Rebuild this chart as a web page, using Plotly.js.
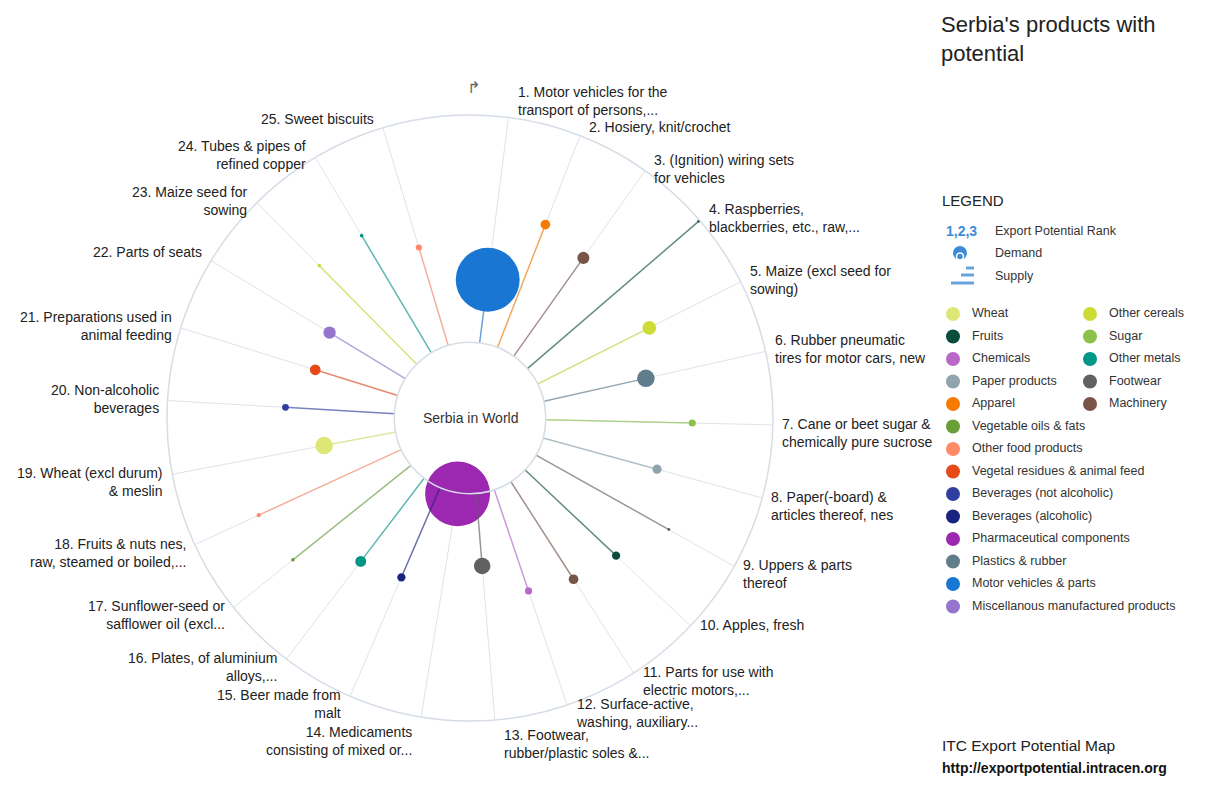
<!DOCTYPE html>
<html><head><meta charset="utf-8">
<script src="https://cdn.plot.ly/plotly-3.0.1.min.js"></script>
<style>html,body{margin:0;padding:0;background:#fff}#chart{width:1220px;height:798px}</style>
</head><body><div id="chart"></div>
<script>
// ---------- DATA ----------
const ranks = [1,2,3,4,5,6,7,8,9,10,11,12,13,14,15,16,17,18,19,20,21,22,23,24,25];
const products = [
  "1. Motor vehicles for the<br>transport of persons,...",
  "2. Hosiery, knit/crochet",
  "3. (Ignition) wiring sets<br>for vehicles",
  "4. Raspberries,<br>blackberries, etc., raw,...",
  "5. Maize (excl seed for<br>sowing)",
  "6. Rubber pneumatic<br>tires for motor cars, new",
  "7. Cane or beet sugar &<br>chemically pure sucrose",
  "8. Paper(-board) &<br>articles thereof, nes",
  "9. Uppers & parts<br>thereof",
  "10. Apples, fresh",
  "11. Parts for use with<br>electric motors,...",
  "12. Surface-active,<br>washing, auxiliary...",
  "13. Footwear,<br>rubber/plastic soles &...",
  "14. Medicaments<br>consisting of mixed or...",
  "15. Beer made from<br>malt",
  "16. Plates, of aluminium<br>alloys,...",
  "17. Sunflower-seed or<br>safflower oil (excl...",
  "18. Fruits & nuts nes,<br>raw, steamed or boiled,...",
  "19. Wheat (excl durum)<br>& meslin",
  "20. Non-alcoholic<br>beverages",
  "21. Preparations used in<br>animal feeding",
  "22. Parts of seats",
  "23. Maize seed for<br>sowing",
  "24. Tubes & pipes of<br>refined copper",
  "25. Sweet biscuits"
];
const productGroup = [
  "Motor vehicles & parts","Apparel","Machinery","Fruits","Other cereals",
  "Plastics & rubber","Sugar","Paper products","Footwear","Fruits",
  "Machinery","Chemicals","Footwear","Pharmaceutical components","Beverages (alcoholic)",
  "Other metals","Vegetable oils & fats","Other food products","Wheat","Beverages (not alcoholic)",
  "Vegetal residues & animal feed","Miscellanous manufactured products","Other cereals","Other metals","Other food products"
];
// supply (relative, 0-100) -> spoke length
const supply = [28,58,53,99.5,55,46,64.5,52,67,55,51,47,32,0.5,43,46,66.5,69,32,48,38,39,61,60,45];
// demand (relative) -> bubble area
const demand = [960,22,34,2,44,72,12,20,2,16,22,12,64,990,16,28,3,4,72,11,27,36,3,3,9];

const groupNames = [
  "Wheat","Other cereals","Fruits","Sugar","Chemicals","Other metals",
  "Paper products","Footwear","Apparel","Machinery",
  "Vegetable oils & fats","Other food products","Vegetal residues & animal feed",
  "Beverages (not alcoholic)","Beverages (alcoholic)","Pharmaceutical components",
  "Plastics & rubber","Motor vehicles & parts","Miscellanous manufactured products"
];
const groupColors = [
  "#dce775","#cddc39","#0b4d3b","#8bc34a","#ba68c8","#009688",
  "#90a4ae","#616161","#f57c00","#795548",
  "#689f38","#ff8a65","#e64a19",
  "#303f9f","#1a237e","#9c27b0",
  "#607d8b","#1976d2","#9575cd"
];

// ---------- LAYOUT HELPERS ----------
const W = 1220, H = 798;
const CX = 470, CY = 418, R = 303;
const START = 7.3, STEP = 14.0;
const px = x => x / W, py = y => 1 - y / H;
const colorOf = g => groupColors[groupNames.indexOf(g)];
const theta = ranks.map(k => START + (k - 1) * STEP);
const FONT = "Liberation Sans, Arial, Helvetica, sans-serif";

const traces = [];
// bubbles (demand)
traces.push({
  type: "scatterpolar", mode: "markers", r: supply, theta: theta,
  cliponaxis: false, hoverinfo: "text",
  text: products.map(p => p.replace("<br>", " ")),
  marker: { size: demand, sizemode: "area", sizeref: 0.47,
            color: productGroup.map(colorOf), line: { width: 0 }, opacity: 1 }
});
// supply lines
ranks.forEach((k, i) => {
  traces.push({
    type: "scatterpolar", mode: "lines", r: [0, supply[i]], theta: [theta[i], theta[i]],
    line: { color: colorOf(productGroup[i]), width: 1.5 }, opacity: 0.6,
    hoverinfo: "skip", cliponaxis: false
  });
});

// legend (custom)
const UNIT = 137, ROWH = 22.5;
const legCol = groupNames.map((g, i) => i < 10 ? i % 2 : 0);
const legRow = groupNames.map((g, i) => i < 10 ? Math.floor(i / 2) : i - 5);
traces.push({
  type: "scatter", mode: "markers", x: legCol, y: legRow, xaxis: "x", yaxis: "y",
  marker: { size: 14, color: groupColors, line: { width: 0 } }, hoverinfo: "skip", cliponaxis: false
});
traces.push({
  type: "scatter", mode: "text", x: legCol.map(c => c + 19 / UNIT), y: legRow, xaxis: "x", yaxis: "y",
  text: groupNames, textposition: "middle right",
  textfont: { family: FONT, size: 12.5, color: "#333" }, hoverinfo: "skip", cliponaxis: false
});

// product labels around the wheel
const LH = 18.2;
const labelAnns = products.map((t, i) => {
  const a = theta[i] * Math.PI / 180;
  const s = Math.sin(a), c = Math.cos(a);
  const ex = CX + R * s, ey = CY - R * c;
  const n = t.split("<br>").length;
  const left = s >= 0;
  let yPix, yanchor;
  if (c > 0.05) { yPix = ey + (n === 1 ? -9 : (c > 0.95 ? -16 : -2)); yanchor = "middle"; }
  else if (Math.abs(s) < 0.2) { yPix = ey + 14 - LH / 2; yanchor = "top"; }
  else { yPix = ey - 2 - LH / 2; yanchor = "top"; }
  return { text: t, xref: "paper", yref: "paper", x: px(ex + (left ? 7 : -7)), y: py(yPix),
           xanchor: left ? "left" : "right", yanchor: yanchor, align: left ? "left" : "right",
           showarrow: false, font: { family: FONT, size: 14, color: "#222" } };
});

const txt = (text, x, y, size, color, extra) => Object.assign({
  text: text, xref: "paper", yref: "paper", x: px(x), y: py(y), xanchor: "left", yanchor: "middle",
  showarrow: false, font: { family: FONT, size: size, color: color }
}, extra || {});

const xLeft = -(953 - 915) / UNIT;
const layout = {
  width: W, height: H, margin: { l: 0, r: 0, t: 0, b: 0 },
  paper_bgcolor: "#fff", plot_bgcolor: "#fff", showlegend: false,
  font: { family: FONT, color: "#222" },
  polar: {
    domain: { x: [px(CX - R), px(CX + R)], y: [1 - (CY + R) / H, 1 - (CY - R) / H] },
    hole: 0.25, bgcolor: "#fff",
    radialaxis: { range: [0, 100], visible: false },
    angularaxis: {
      direction: "clockwise", rotation: 90, thetaunit: "degrees",
      tickmode: "array", tickvals: theta, ticktext: products, showticklabels: false,
      showgrid: true, gridcolor: "#dfe3e9", gridwidth: 1,
      showline: true, linecolor: "#d6dde6", linewidth: 1.5, ticks: ""
    }
  },
  xaxis: { domain: [0.75, 1], range: [xLeft, xLeft + 305 / UNIT], visible: false, fixedrange: true },
  yaxis: { domain: [(H - 620) / H, (H - 290) / H],
           range: [(620 - 314) / ROWH, (290 - 314) / ROWH], visible: false, fixedrange: true },
  shapes: [
    { type: "circle", xref: "paper", yref: "paper",
      x0: px(CX - R * 0.25), x1: px(CX + R * 0.25), y0: py(CY + R * 0.25), y1: py(CY - R * 0.25),
      line: { color: "#e8ecf0", width: 1 }, fillcolor: "rgba(0,0,0,0)", layer: "below" },
    // demand icon
    { type: "circle", xref: "paper", yref: "paper", x0: px(953), x1: px(967), y0: py(260), y1: py(246),
      fillcolor: "#3d8bd6", line: { width: 0 } },
    { type: "circle", xref: "paper", yref: "paper", x0: px(956.5), x1: px(963.5), y0: py(260), y1: py(253),
      fillcolor: "#3d8bd6", line: { color: "#fff", width: 1.5 } },
    // supply icon
    { type: "line", xref: "paper", yref: "paper", x0: px(966), x1: px(974), y0: py(268), y1: py(268),
      line: { color: "#6aa3dc", width: 3 } },
    { type: "line", xref: "paper", yref: "paper", x0: px(961), x1: px(974), y0: py(275), y1: py(275),
      line: { color: "#6aa3dc", width: 3 } },
    { type: "line", xref: "paper", yref: "paper", x0: px(951), x1: px(974), y0: py(283), y1: py(283),
      line: { color: "#6aa3dc", width: 3 } }
  ],
  annotations: labelAnns.concat([
    txt("Serbia's products with<br>potential", 939, 10, 22, "#222", { yanchor: "top", align: "left" }),
    txt("Serbia in World", CX, CY, 14, "#333", { xanchor: "center" }),
    txt("↱", 473, 87, 16, "#666", { xanchor: "center", font: { family: "DejaVu Sans", size: 16, color: "#666" } }),
    txt("LEGEND", 940, 200, 15, "#222"),
    txt("<b>1,2,3</b>", 944, 231, 14, "#3d8bd6"),
    txt("Export Potential Rank", 993, 231, 12.5, "#333"),
    txt("Demand", 993, 253, 12.5, "#333"),
    txt("Supply", 993, 276, 12.5, "#333"),
    txt("ITC Export Potential Map", 940, 745, 15.5, "#222"),
    txt("<b>http://exportpotential.intracen.org</b>", 940, 768, 14, "#111")
  ])
};

Plotly.newPlot("chart", traces, layout, { displayModeBar: false, staticPlot: true });
</script>
</body></html>
